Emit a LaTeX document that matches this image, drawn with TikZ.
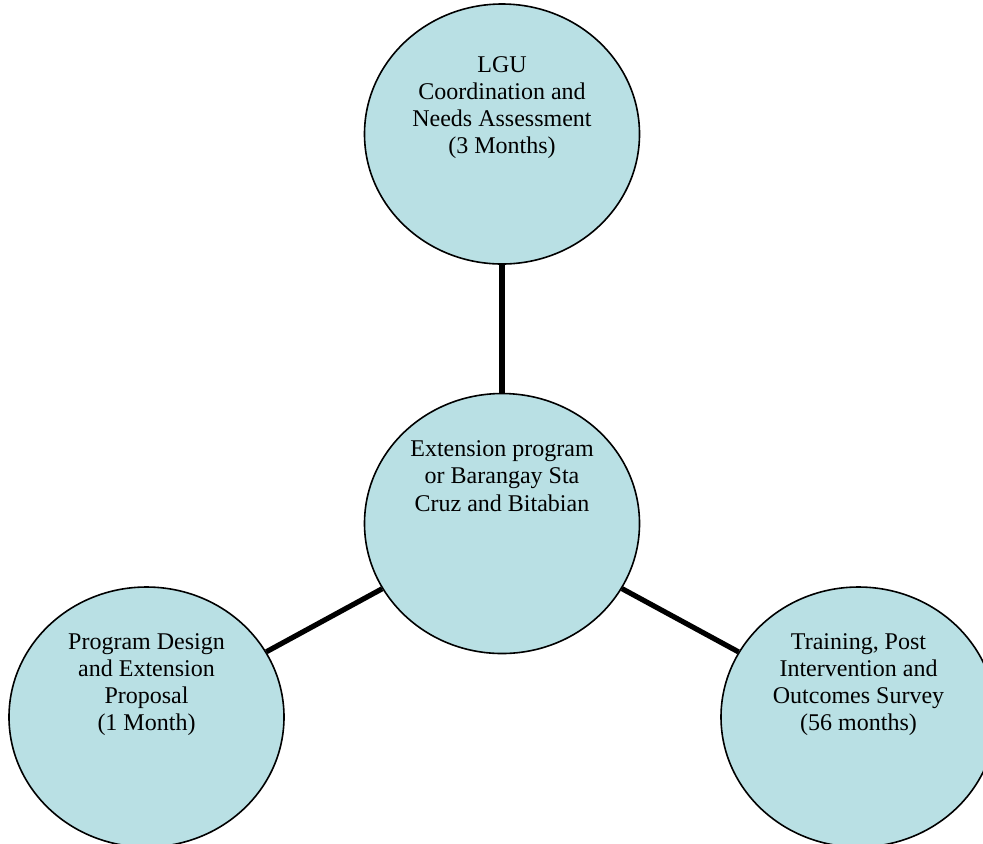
\documentclass[tikz,border=0pt]{standalone}
\usepackage{fontspec}
\setmainfont{Liberation Serif}
\usetikzlibrary{shapes.geometric}
\definecolor{bubble}{RGB}{185,224,228}

\begin{document}
\begin{tikzpicture}[x=0.5pt, y=-0.5pt,
		phase/.style={ellipse, draw=black, line width=0.8pt, fill=bubble,
			minimum width=137.5pt, minimum height=130pt, inner sep=0pt},
		phase label/.style={align=center, font=\fontsize{12}{13.6}\selectfont, inner sep=0pt},
		spoke/.style={line width=2.6pt, black}
			]
	\clip (0,0) rectangle (983,843);

	% the four phases
	\node[phase] (lgu)    at (502,134)   {};
	\node[phase] (hub)    at (502,523.5) {};
	\node[phase] (design) at (146.5,717) {};
	\node[phase] (survey) at (858.5,717) {};

	% spokes from the hub
	\draw[spoke] (hub) -- (lgu);
	\draw[spoke] (hub) -- (design);
	\draw[spoke] (hub) -- (survey);

	\node[phase label] (lgutext)    at (502,107.5)   {LGU\\Coordination and\\Needs Assessment\\(3 Months)};
	\node[phase label] (hubtext)    at (502,476)     {Extension program\\or Barangay Sta\\Cruz and Bitabian};
	\node[phase label] (designtext) at (146.5,684.5) {Program Design\\and Extension\\Proposal\\(1 Month)};
	\node[phase label] (surveytext) at (858.5,684.5) {Training, Post\\Intervention and\\Outcomes Survey\\(56 months)};
\end{tikzpicture}
\end{document}
